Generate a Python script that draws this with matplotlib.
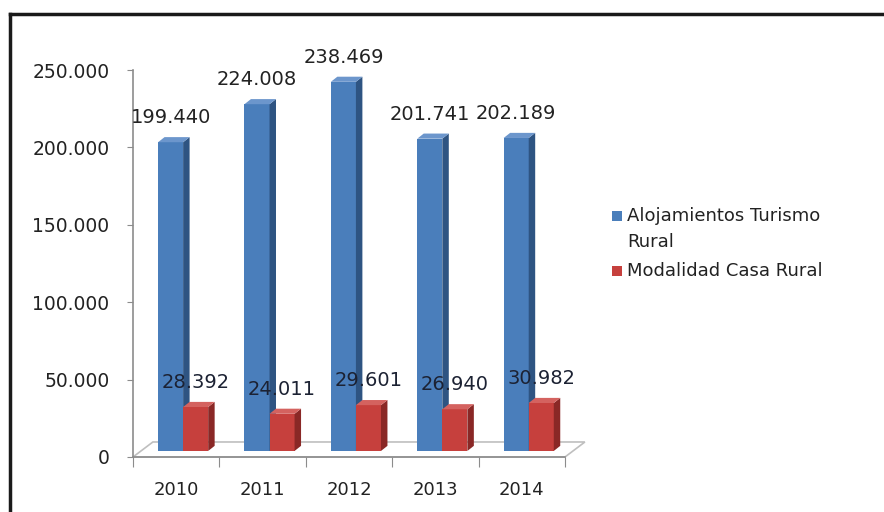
import matplotlib
matplotlib.use("Agg")
import matplotlib.pyplot as plt
from matplotlib.patches import Polygon, Rectangle
from matplotlib.lines import Line2D

# chart data
years = ["2010", "2011", "2012", "2013", "2014"]
alojamientos = [199440, 224008, 238469, 201741, 202189]
casa_rural = [28392, 24011, 29601, 26940, 30982]
series_names = ["Alojamientos Turismo\nRural", "Modalidad Casa Rural"]
y_ticks = [0, 50000, 100000, 150000, 200000, 250000]


def fmt(v):
    # spanish thousands separator
    return f"{v:,}".replace(",", ".")


# colours (front, side, top)
blue = ("#4A7EBB", "#2E5482", "#6C96CC")
red = ("#C6403D", "#8A2826", "#D4625F")

fig = plt.figure(figsize=(8.84, 5.12), dpi=100)
ax = fig.add_axes([133 / 884, 55 / 512, 432 / 884, 387 / 512])
ax.set_xlim(-0.58, 4.42)
ax.set_ylim(0, 250000)

width = 0.29
base = 3900          # bars stand a bit behind the front edge of the floor
bar_dx, bar_dy = 0.075, 3300
floor_dx, floor_dy = 0.23, 9700


def draw_bars(xs, vals, cols, z):
    bars = ax.bar(xs, vals, width=width, bottom=base, color=cols[0],
                  align="edge", zorder=z, linewidth=0)
    for b in bars:
        x0 = b.get_x()
        x1 = x0 + b.get_width()
        top = b.get_y() + b.get_height()
        side = Polygon([(x1, base), (x1 + bar_dx, base + bar_dy),
                        (x1 + bar_dx, top + bar_dy), (x1, top)],
                       closed=True, color=cols[1], zorder=z, linewidth=0)
        lid = Polygon([(x0, top), (x1, top), (x1 + bar_dx, top + bar_dy),
                       (x0 + bar_dx, top + bar_dy)],
                      closed=True, color=cols[2], zorder=z, linewidth=0)
        ax.add_patch(side)
        ax.add_patch(lid)
    return bars


pos = list(range(len(years)))

# floor of the 3d plot
x_left, x_right = ax.get_xlim()
floor = Polygon([(x_left, 0), (x_right, 0), (x_right + floor_dx, floor_dy),
                 (x_left + floor_dx, floor_dy)], closed=True, fill=False,
                edgecolor="#BFBFBF", linewidth=1.2, zorder=1, clip_on=False)
ax.add_patch(floor)

draw_bars([p - width for p in pos], alojamientos, blue, 3)
draw_bars(pos, casa_rural, red, 4)

# data labels
for p, v in zip(pos, alojamientos):
    ax.annotate(fmt(v), (p - width / 2, base + v + bar_dy), xytext=(0, 7),
                textcoords="offset points", ha="center", va="bottom",
                fontsize=14, color="#222222", zorder=6)
for p, v in zip(pos, casa_rural):
    ax.annotate(fmt(v), (p + width / 2, base + v + bar_dy), xytext=(0, 7),
                textcoords="offset points", ha="center", va="bottom",
                fontsize=14, color="#1C2233", zorder=6)

# axes styling
for s in ["top", "right"]:
    ax.spines[s].set_visible(False)
ax.spines["left"].set_color("#8C8C8C")
ax.spines["bottom"].set_color("#8C8C8C")
ax.spines["left"].set_linewidth(1.2)
ax.spines["bottom"].set_linewidth(1.2)

ax.set_yticks(y_ticks)
ax.set_yticklabels([fmt(t) for t in y_ticks], fontsize=13.5, color="#222222")
ax.tick_params(axis="y", direction="out", length=4, color="#8C8C8C", pad=13)

# tick marks on category borders, labels between them
ax.set_xticks([x_left + i for i in range(len(years) + 1)])
ax.set_xticklabels([""] * (len(years) + 1))
ax.set_xticks([x_left + i + 0.5 for i in range(len(years))], minor=True)
ax.set_xticklabels(years, minor=True, fontsize=13, color="#222222")
ax.tick_params(axis="x", which="major", direction="out", length=7,
               color="#8C8C8C")
ax.tick_params(axis="x", which="minor", length=0, pad=17)

# legend drawn by hand so the marker sits on the first line
leg_items = [(series_names[0], blue[0], 216), (series_names[1], red[0], 271)]
for label, col, ypx in leg_items:
    fig.add_artist(Rectangle((612 / 884, 1 - (ypx + 5) / 512), 10 / 884,
                             10 / 512, transform=fig.transFigure,
                             color=col, linewidth=0))
    fig.text(627 / 884, 1 - (ypx - 9) / 512, label, fontsize=13,
             color="#222222", va="top", ha="left", linespacing=1.6)

# dark frame at top and left
fig.add_artist(Line2D([10 / 884, 1], [1 - 14 / 512, 1 - 14 / 512],
                      transform=fig.transFigure, color="#1A1A1A", lw=2.5))
fig.add_artist(Line2D([10 / 884, 10 / 884], [0, 1 - 14 / 512],
                      transform=fig.transFigure, color="#1A1A1A", lw=2.5))

fig.savefig("out.png", dpi=100)
